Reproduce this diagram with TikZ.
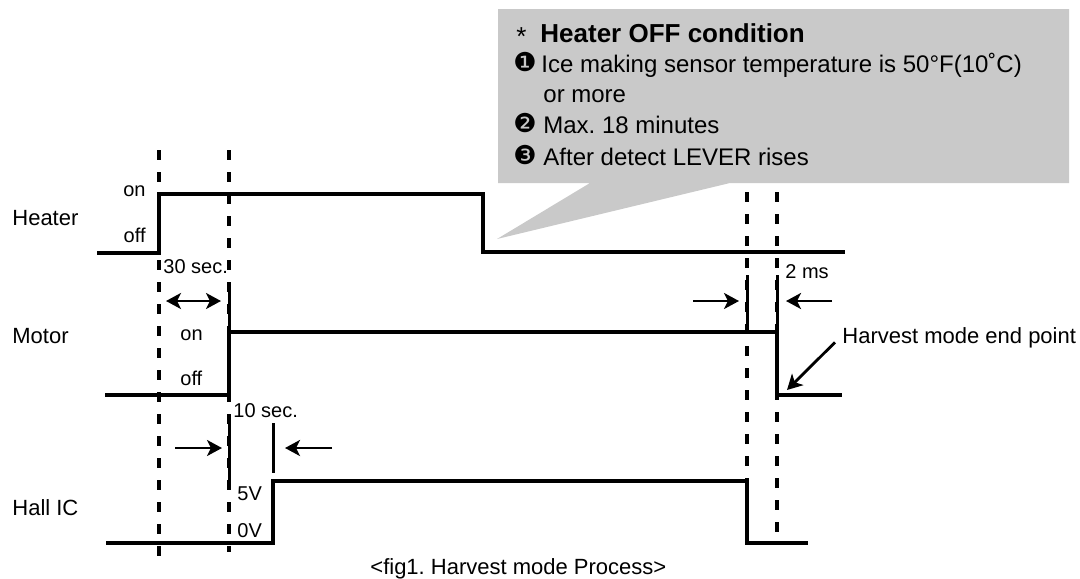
\documentclass[tikz,border=0pt]{standalone}
\usepackage{fontspec}
\setmainfont{Liberation Sans}
\newfontfamily\dingfont{DejaVu Sans}
\usetikzlibrary{arrows.meta, positioning, calc}
\definecolor{calloutgray}{RGB}{201,201,201}
\frenchspacing

\begin{document}
\begin{tikzpicture}[x=0.5pt, y=-0.5pt,
    signal/.style={line width=1.8pt, line join=miter},
    guide/.style={line width=1.6pt, dash pattern=on 5pt off 6pt},
    marker/.style={line width=1.5pt},
    dimarrow/.style={line width=1.4pt, -{Stealth[length=7.5pt, width=8pt, inset=2pt]}},
    dimboth/.style={line width=1.4pt, {Stealth[length=7.5pt, width=8pt, inset=2pt]}-{Stealth[length=7.5pt, width=8pt, inset=2pt]}},
    lbl/.style={anchor=base west, inner sep=0pt, font=\fontsize{11pt}{13pt}\selectfont},
    tag/.style={anchor=base west, inner sep=0pt, font=\fontsize{10pt}{12pt}\selectfont},
    note/.style={anchor=base west, inner sep=0pt, font=\fontsize{12pt}{14pt}\selectfont},
    bullet/.style={anchor=base west, inner sep=0pt, font=\dingfont\fontsize{13pt}{15pt}\selectfont}]
    \useasboundingbox (0,0) rectangle (1080,578);

    % Callout
    \fill[calloutgray] (498,9) -- (1069,9) -- (1069,183) -- (730,183)
        -- (497,239) -- (590,183) -- (498,183) -- cycle;
    \node[note, font=\fontsize{13pt}{15pt}\selectfont] (star) at (516,45) {*};
    \node[note, font=\fontsize{13pt}{15pt}\selectfont\bfseries] (title) at (540,42) {Heater OFF condition};
    \node[bullet] (b1) at (513,71) {❶};
    \node[note] (cond1) at (541,72) {Ice making sensor temperature is 50°F(10˚C)};
    \node[note] (cond1b) at (543,102) {or more};
    \node[bullet] (b2) at (513,132) {❷};
    \node[note] (cond2) at (543,133) {Max. 18 minutes};
    \node[bullet] (b3) at (513,164) {❸};
    \node[note] (cond3) at (543,165) {After detect LEVER rises};

    % Guide lines
    \draw[guide] (159,150) -- (159,562);
    \draw[guide] (229,150) -- (229,552);
    \draw[guide] (747,192) -- (747,481);
    \draw[guide] (777,192) -- (777,535);

    % Heater
    \node[lbl] (heater) at (12,225) {Heater};
    \node[tag, anchor=base east] (heateron) at (146,196) {on};
    \node[tag, anchor=base east] (heateroff) at (146,242) {off};
    \draw[signal] (97,253) -- (159,253) -- (159,194) -- (483,194) -- (483,252) -- (845,252);

    % Motor
    \node[lbl] (motor) at (12,343) {Motor};
    \node[tag] (motoron) at (180,340) {on};
    \node[tag] (motoroff) at (180,385) {off};
    \draw[signal] (105,395) -- (229,395) -- (229,332) -- (777,332) -- (777,395) -- (842,395);
    \coordinate (motorend) at (777,395);

    % Hall IC
    \node[lbl] (hall) at (12,515) {Hall IC};
    \node[tag] (hallhigh) at (237,500) {5V};
    \node[tag] (hallow) at (237,537) {0V};
    \draw[signal] (106,543) -- (273,543) -- (273,481) -- (747,481) -- (747,543) -- (808,543);

    % 30 sec.
    \node[tag] (delayA) at (163,273) {30 sec.};
    \draw[marker] (229,283) -- (229,332);
    \draw[dimboth] (166,301) -- (221,301);

    % 10 sec.
    \node[tag] (delayB) at (233,417) {10 sec.};
    \draw[marker] (229,423) -- (229,482);
    \draw[marker] (273,423) -- (273,473);
    \draw[dimarrow] (175,448) -- (222,448);
    \draw[dimarrow] (332,448) -- (285,448);

    % 2 ms
    \node[tag] (delayC) at (785,278) {2 ms};
    \draw[marker] (747,275) -- (747,326);
    \draw[marker] (777,275) -- (777,326);
    \draw[dimarrow] (693,301) -- (739,301);
    \draw[dimarrow] (832,301) -- (786,301);

    % End point
    \node[lbl] (endlbl) at (842,343) {Harvest mode end point};
    \draw[dimarrow] ([xshift=-3.5pt, yshift=-2.5pt]endlbl.west) -- ($(motorend)+(10,-5)$);

    % Caption
    \node[lbl] (caption) at (370,574) {<fig1. Harvest mode Process>};
\end{tikzpicture}
\end{document}
